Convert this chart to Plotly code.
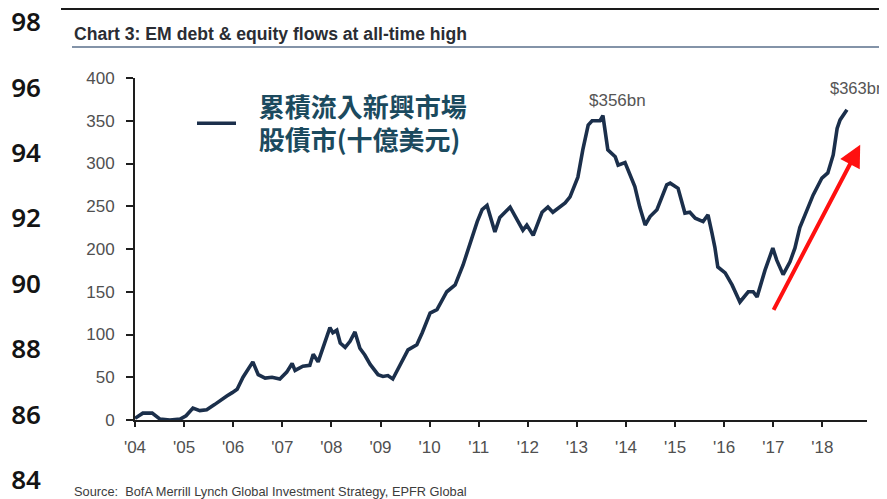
import plotly.graph_objects as go

# ---- data ----
dates = [2004.00, 2004.16, 2004.35, 2004.43, 2004.51, 2004.71, 2004.92, 2005.04, 2005.18, 2005.32,
         2005.46, 2005.62, 2005.76, 2005.87, 2005.98, 2006.08, 2006.20, 2006.30, 2006.40, 2006.51,
         2006.65, 2006.79, 2006.95, 2007.09, 2007.20, 2007.26, 2007.42, 2007.56, 2007.63, 2007.73,
         2007.83, 2007.91, 2007.97, 2008.03, 2008.11, 2008.18, 2008.28, 2008.38, 2008.48, 2008.58,
         2008.68, 2008.79, 2008.95, 2009.05, 2009.15, 2009.25, 2009.44, 2009.56, 2009.74, 2009.85,
         2010.01, 2010.15, 2010.35, 2010.52, 2010.68, 2010.78, 2010.97, 2011.07, 2011.17, 2011.33,
         2011.43, 2011.64, 2011.78, 2011.90, 2011.98, 2012.11, 2012.29, 2012.41, 2012.51, 2012.76,
         2012.86, 2013.02, 2013.12, 2013.23, 2013.31, 2013.47, 2013.53, 2013.63, 2013.78, 2013.84,
         2013.98, 2014.18, 2014.28, 2014.39, 2014.49, 2014.63, 2014.83, 2014.90, 2015.06, 2015.20,
         2015.30, 2015.41, 2015.57, 2015.67, 2015.75, 2015.81, 2015.87, 2016.02, 2016.16, 2016.32,
         2016.49, 2016.59, 2016.67, 2016.83, 2016.99, 2017.07, 2017.20, 2017.34, 2017.44, 2017.54,
         2017.69, 2017.81, 2017.99, 2018.11, 2018.22, 2018.30, 2018.36, 2018.50]
flows = [2, 8, 8, 5, 1, 0, 1, 5, 14, 11,
         12, 18, 24, 28, 32, 36, 50, 60, 68, 53,
         49, 50, 48, 56, 66, 58, 63, 64, 77, 68,
         86, 100, 108, 102, 105, 90, 85, 92, 103, 84,
         76, 65, 53, 51, 52, 48, 70, 82, 88, 102,
         125, 129, 150, 158, 181, 199, 232, 246, 251, 220,
         237, 249, 234, 222, 228, 216, 243, 249, 243, 254,
         261, 284, 316, 345, 350, 350, 356, 316, 308, 298,
         301, 273, 249, 228, 238, 246, 275, 277, 271, 242,
         243, 236, 232, 240, 219, 202, 179, 172, 158, 138,
         150, 150, 144, 175, 201, 187, 170, 185, 201, 225,
         246, 263, 283, 289, 310, 341, 351, 363]

year_ticks = list(range(2004, 2019))
year_labels = ["'%02d" % (y % 100) for y in year_ticks]
y_ticks = list(range(0, 401, 50))
outer_ticks = list(range(84, 99, 2))

series_name = "&nbsp;&nbsp;&nbsp;累積流入新興市場<br>&nbsp;&nbsp;&nbsp;股債市(十億美元)"
title_text = "Chart 3: EM debt & equity flows at all-time high"
source_text = "Source:  BofA Merrill Lynch Global Investment Strategy, EPFR Global"

peak_2013 = dict(x=2013.82, y=374, text="$356bn")
peak_2018 = dict(y=388, text="$363bn")
arrow_tail = (2016.99, 127)
arrow_tip = (2018.77, 322)

# ---- layout helpers (positions given in page pixels; the page body has an 8px margin) ----
OFF = 8
FW, FH = 887 - OFF, 499 - OFF
ML = 40
def px_x(p):
    return (p - OFF - ML) / (FW - ML)
def px_y(p):
    return 1 - (p - OFF) / FH

ARIAL = "Liberation Sans, Arial, sans-serif"
PX_PER_UNIT = 32.71  # outer axis

fig = go.Figure()
fig.add_trace(go.Scatter(
    x=dates, y=flows, mode="lines", name=series_name,
    line=dict(color="#1b2f4b", width=3.6), showlegend=True,
))
fig.add_trace(go.Scatter(x=[None], y=[None], yaxis="y2", showlegend=False, hoverinfo="skip"))

fig.update_layout(
    width=FW, height=FH,
    margin=dict(l=ML, r=0, t=0, b=0, pad=0, autoexpand=False),
    paper_bgcolor="white", plot_bgcolor="rgba(0,0,0,0)",
    xaxis=dict(
        domain=[px_x(135), px_x(867)], range=[2004, 2004 + (867 - 135) / 49.1],
        tickvals=year_ticks, ticktext=year_labels,
        showline=True, linecolor="#1e1e1e", linewidth=2,
        ticks="outside", ticklen=5, tickwidth=2, tickcolor="#1e1e1e",
        showgrid=False, zeroline=False,
        tickfont=dict(family=ARIAL, size=17, color="#505050"),
        ticklabelstandoff=6, anchor="y", automargin=False,
    ),
    yaxis=dict(
        domain=[px_y(420), px_y(78)], range=[0, 400],
        tickvals=y_ticks,
        showline=True, linecolor="#1e1e1e", linewidth=2,
        ticks="outside", ticklen=7, tickwidth=2, tickcolor="#1e1e1e",
        showgrid=False, zeroline=False,
        tickfont=dict(family=ARIAL, size=17, color="#505050"),
        ticklabelstandoff=8, automargin=False,
    ),
    yaxis2=dict(
        domain=[0, 1],
        range=[98 - (499 - 22) / PX_PER_UNIT, 98 + (22 - OFF) / PX_PER_UNIT],
        anchor="free", position=0, side="left",
        tickvals=outer_ticks, showline=False, ticks="", showgrid=False, zeroline=False,
        tickfont=dict(family="Noto Sans, sans-serif", size=26, color="#141414", weight=600),
        ticklabelstandoff=7, automargin=False, ticklabeloverflow="allow",
    ),
    legend=dict(
        x=px_x(192), y=px_y(83), xanchor="left", yanchor="top",
        bgcolor="rgba(0,0,0,0)", itemwidth=39,
        font=dict(family="Noto Sans CJK TC, Noto Sans, sans-serif", size=26,
                  color="#1b4a5e", weight=700),
    ),
)

fig.add_shape(type="line", xref="paper", yref="paper",
              x0=px_x(61), x1=1, y0=px_y(9), y1=px_y(9),
              line=dict(color="#1a1a1a", width=2))
fig.add_shape(type="line", xref="paper", yref="paper",
              x0=px_x(72), x1=1, y0=px_y(47), y1=px_y(47),
              line=dict(color="#8393a8", width=2))

fig.add_annotation(xref="paper", yref="paper", x=px_x(72), y=px_y(34),
                   xanchor="left", yanchor="middle", showarrow=False,
                   text="<b>%s</b>" % title_text,
                   font=dict(family=ARIAL, size=17.6, color="#2a2d33"))
fig.add_annotation(xref="paper", yref="paper", x=px_x(72), y=px_y(491),
                   xanchor="left", yanchor="middle", showarrow=False,
                   text=source_text,
                   font=dict(family=ARIAL, size=12.8, color="#3c3c3c"))

fig.add_annotation(x=peak_2013["x"], y=peak_2013["y"], text=peak_2013["text"], showarrow=False,
                   xanchor="center", yanchor="middle",
                   font=dict(family=ARIAL, size=17, color="#555555"))
fig.add_annotation(xref="paper", x=1, y=peak_2018["y"], text=peak_2018["text"], showarrow=False,
                   xanchor="right", yanchor="middle",
                   font=dict(family=ARIAL, size=16.5, color="#555555"))

fig.add_annotation(x=arrow_tip[0], y=arrow_tip[1], ax=arrow_tail[0], ay=arrow_tail[1],
                   axref="x", ayref="y", text="", showarrow=True,
                   arrowhead=2, arrowsize=1.1, arrowwidth=4, arrowcolor="#ff1010",
                   standoff=0, startstandoff=0)

fig.write_html("out.html")
